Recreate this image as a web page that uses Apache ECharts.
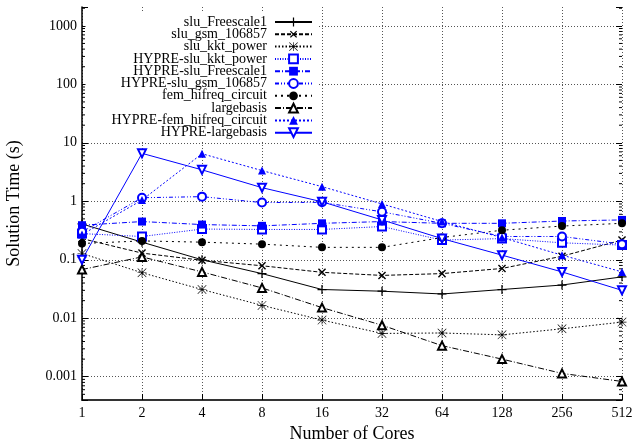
<!DOCTYPE html>
<html>
<head>
<meta charset="utf-8">
<script src="https://cdn.jsdelivr.net/npm/echarts@6/dist/echarts.min.js"></script>
<style>
html, body { margin: 0; padding: 0; background: #fff; }
#chart { width: 636px; height: 440px; }
</style>
</head>
<body>
<div id="chart"></div>
<script>
// number of cores (x categories)
const cores = ['1', '2', '4', '8', '16', '32', '64', '128', '256', '512'];

// solution time in seconds
const sluFreescale1 = [0.41, 0.2, 0.1, 0.058, 0.031, 0.029, 0.026, 0.031, 0.037, 0.051];
const sluGsm106857 = [0.23, 0.13, 0.098, 0.079, 0.061, 0.054, 0.058, 0.071, 0.115, 0.217];
const sluKktPower = [0.128, 0.06, 0.031, 0.0166, 0.0093, 0.0055, 0.0056, 0.0052, 0.0066, 0.0086];
const hypreSluKktPower = [0.28, 0.25, 0.335, 0.33, 0.33, 0.37, 0.217, 0.23, 0.195, 0.178];
const hypreSluFreescale1 = [0.39, 0.45, 0.4, 0.38, 0.42, 0.45, 0.42, 0.42, 0.46, 0.48];
const hypreSluGsm106857 = [0.3, 1.15, 1.2, 0.95, 0.96, 0.66, 0.42, 0.25, 0.25, 0.185];
const femHifreqCircuit = [0.19, 0.21, 0.2, 0.185, 0.163, 0.163, 0.24, 0.32, 0.377, 0.42];
const largebasis = [0.068, 0.112, 0.062, 0.033, 0.0152, 0.0076, 0.0034, 0.002, 0.00114, 0.00083];
const hypreFemHifreqCircuit = [0.27, 1.05, 6.5, 3.35, 1.78, 0.9, 0.45, 0.24, 0.12, 0.062];
const hypreLargebasis = [0.1, 6.6, 3.45, 1.71, 0.98, 0.48, 0.23, 0.12, 0.062, 0.03];

// y range of the plot box
const yMin = 0.0004;
const yMax = 2100;

// minor ticks of the log axis (2..9 in each decade)
const minorMantissas = [2, 3, 4, 5, 6, 7, 8, 9];
const minorDecades = [0.0001, 0.001, 0.01, 0.1, 1, 10, 100, 1000];

const FONT = 'Liberation Serif';
const BLUE = '#0000ff';
const BLACK = '#000000';

const PLUS = 'path://M4.3,0H5.7V4.3H10V5.7H5.7V10H4.3V5.7H0V4.3H4.3Z';
const STAR = 'path://M9.3,0H10.7V20H9.3Z M0,9.3H20V10.7H0Z M1,0L20,19L19,20L0,1Z M19,0L20,1L1,20L0,19Z';

const minorTicks = [];
minorDecades.forEach((d) => {
  minorMantissas.forEach((m) => {
    const v = d * m;
    if (v > yMin && v < yMax) {
      minorTicks.push([0, v]);
      minorTicks.push([cores.length - 1, v]);
    }
  });
});

const decadeLabel = (v) => {
  const e = Math.log10(v);
  if (Math.abs(e - Math.round(e)) > 1e-6) return '';
  return String(Number(v.toPrecision(3)));
};

const makeSeries = (name, data, color, dash, symbol, size, extra) => {
  return Object.assign({
    name: name,
    type: 'line',
    data: data,
    symbol: symbol,
    symbolSize: size,
    showSymbol: true,
    lineStyle: { color: color, width: 1, type: dash },
    itemStyle: { color: color, borderColor: color, borderWidth: 1 },
    emphasis: { disabled: true },
    z: 3,
  }, extra || {});
};

const series = [
  makeSeries('slu_Freescale1', sluFreescale1, BLACK, 'solid', PLUS, 9, { itemStyle: { color: BLACK, borderWidth: 0 } }),
  makeSeries('slu_gsm_106857', sluGsm106857, BLACK, [4, 2], PLUS, 10, { symbolRotate: 45, itemStyle: { color: BLACK, borderWidth: 0 } }),
  makeSeries('slu_kkt_power', sluKktPower, BLACK, [1.5, 2], STAR, 9, { itemStyle: { color: BLACK, borderWidth: 0 } }),
  makeSeries('HYPRE-slu_kkt_power', hypreSluKktPower, BLUE, [1, 1.5], 'emptyRect', 8),
  makeSeries('HYPRE-slu_Freescale1', hypreSluFreescale1, BLUE, [5, 2, 1, 2], 'rect', 8, { itemStyle: { color: BLUE, borderWidth: 0 } }),
  makeSeries('HYPRE-slu_gsm_106857', hypreSluGsm106857, BLUE, [4, 2, 1, 2, 1, 2], 'emptyCircle', 8),
  makeSeries('fem_hifreq_circuit', femHifreqCircuit, BLACK, [2, 4], 'circle', 8, { itemStyle: { color: BLACK, borderWidth: 0 } }),
  makeSeries('largebasis', largebasis, BLACK, [6, 2, 1, 2], 'emptyTriangle', 8),
  makeSeries('HYPRE-fem_hifreq_circuit', hypreFemHifreqCircuit, BLUE, [2, 2], 'triangle', 8, { itemStyle: { color: BLUE, borderWidth: 0 } }),
  makeSeries('HYPRE-largebasis', hypreLargebasis, BLUE, 'solid', 'emptyTriangle', 8, { symbolRotate: 180 }),
  {
    name: 'minorTicks',
    type: 'custom',
    data: minorTicks,
    silent: true,
    z: 2,
    renderItem: (params, api) => {
      const pt = api.coord([api.value(0), api.value(1)]);
      const dir = api.value(0) === 0 ? 1 : -1;
      return {
        type: 'line',
        shape: { x1: pt[0], y1: pt[1], x2: pt[0] + dir * 3, y2: pt[1] },
        style: { stroke: BLACK, lineWidth: 1 },
      };
    },
  },
];

const chart = echarts.init(document.getElementById('chart'));

chart.setOption({
  animation: false,
  textStyle: { fontFamily: FONT, color: BLACK },
  grid: { left: 82, right: 14, top: 7, bottom: 40, containLabel: false, outerBoundsMode: 'none' },
  legend: {
    data: series.slice(0, 10).map((s) => s.name),
    orient: 'vertical',
    align: 'right',
    right: 318,
    top: 11,
    padding: [4, 5, 1, 26],
    itemWidth: 37,
    itemHeight: 11,
    itemGap: -1.7,
    backgroundColor: '#ffffff',
    selectedMode: false,
    textStyle: { fontFamily: FONT, fontSize: 14, color: BLACK, lineHeight: 12.4, padding: [0, 3, 0, 0] },
  },
  xAxis: {
    type: 'category',
    data: cores,
    boundaryGap: false,
    name: 'Number of Cores',
    nameLocation: 'middle',
    nameGap: 21,
    nameTextStyle: { fontFamily: FONT, fontSize: 18, color: BLACK },
    axisLine: { lineStyle: { color: '#333', width: 2 } },
    axisTick: { inside: true, length: 6, lineStyle: { color: BLACK } },
    axisLabel: { fontFamily: FONT, fontSize: 14, color: BLACK, margin: 6 },
    splitLine: { show: true, lineStyle: { color: '#555', type: [1, 2], width: 1 } },
  },
  yAxis: [
    {
      type: 'log',
      min: yMin,
      max: yMax,
      name: 'Solution Time (s)',
      nameLocation: 'middle',
      nameGap: 59,
      nameTextStyle: { fontFamily: FONT, fontSize: 18, color: BLACK },
      axisLine: { show: true, lineStyle: { color: BLACK, width: 1.5 } },
      axisTick: { show: true, inside: true, length: 6, lineStyle: { color: BLACK } },
      axisLabel: { fontFamily: FONT, fontSize: 14, color: BLACK, margin: 5, formatter: decadeLabel },
      splitLine: { show: true, showMinLine: false, showMaxLine: false, lineStyle: { color: '#555', type: [1, 2], width: 1 } },
    },
    {
      type: 'log',
      min: yMin,
      max: yMax,
      position: 'right',
      axisLine: { show: false },
      axisTick: { show: true, inside: true, length: 6, lineStyle: { color: BLACK } },
      axisLabel: { show: false },
      splitLine: { show: false },
    },
  ],
  series: series,
});
</script>
</body>
</html>
